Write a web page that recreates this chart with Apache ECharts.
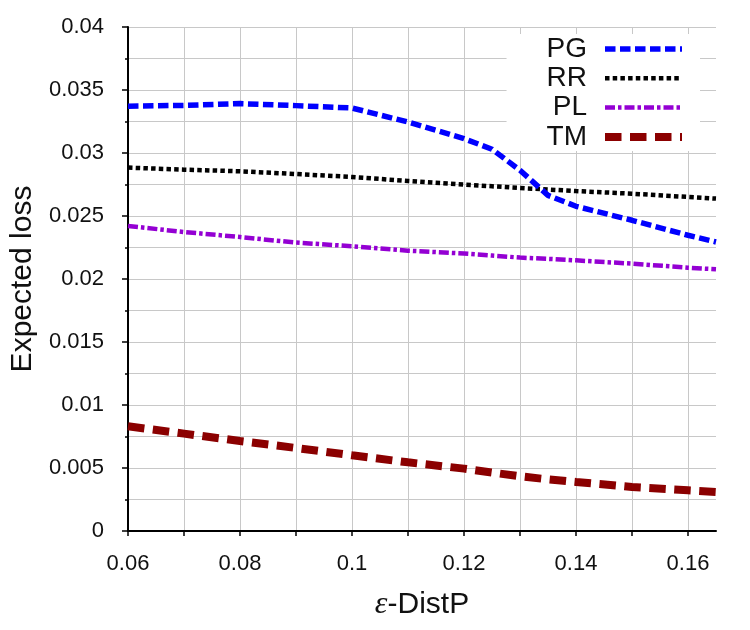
<!DOCTYPE html>
<html>
<head>
<meta charset="utf-8">
<script src="https://cdn.jsdelivr.net/npm/echarts@6/dist/echarts.min.js"></script>
<style>
  html, body { margin: 0; padding: 0; background: #ffffff; }
  #chart-root { width: 750px; height: 630px; }
</style>
</head>
<body>
<div id="chart-root"></div>
<script>
// epsilon values (x) shared by all series
const epsilons = [0.06, 0.07, 0.08, 0.09, 0.1, 0.11, 0.12, 0.125, 0.13, 0.135, 0.14, 0.15, 0.16, 0.165];

const seriesNames = ['PG', 'RR', 'PL', 'TM'];
const pgLoss = [0.03371, 0.03378, 0.03392, 0.03376, 0.03357, 0.03246, 0.03114, 0.03030, 0.02863, 0.02664, 0.02577, 0.02466, 0.02347, 0.02294];
const rrLoss = [0.02884, 0.02868, 0.02855, 0.02833, 0.02810, 0.02778, 0.02749, 0.02736, 0.02722, 0.02710, 0.02698, 0.02677, 0.02651, 0.02638];
const plLoss = [0.02421, 0.02373, 0.02333, 0.02289, 0.02260, 0.02225, 0.02202, 0.02186, 0.02170, 0.02160, 0.02148, 0.02122, 0.02090, 0.02077];
const tmLoss = [0.00831, 0.00773, 0.00714, 0.00659, 0.00601, 0.00545, 0.00495, 0.00464, 0.00434, 0.00410, 0.00389, 0.00349, 0.00323, 0.00310];

const theme = {
  text: '#111111',
  axis: '#000000',
  grid: '#c8c8c8',
  font: '"Liberation Sans", Arial, Helvetica, sans-serif',
};

const styles = [
  { color: '#0000ff', width: 5.5, dash: [10.5, 4.5] },
  { color: '#000000', width: 4.5, dash: [4.5, 3.2] },
  { color: '#9400d3', width: 4.5, dash: [10, 3, 3.5, 3] },
  { color: '#8b0000', width: 8, dash: [16.5, 8.5] },
];

const lossData = [pgLoss, rrLoss, plLoss, tmLoss];

function pairs(ys) {
  return epsilons.map((x, i) => [x, ys[i]]);
}

function xLabel(v) {
  const k = Math.round(v * 100);
  if (Math.abs(v * 100 - k) > 1e-6 || k % 2 !== 0) return '';
  return String(k / 100);
}

const option = {
  backgroundColor: '#ffffff',
  animation: false,
  textStyle: { fontFamily: theme.font, color: theme.text },
  grid: { left: 126, right: 34, top: 27, bottom: 99 },
  legend: {
    data: seriesNames,
    orient: 'vertical',
    align: 'right',
    right: 50,
    top: 34,
    padding: [1, 14, 0, 40],
    itemGap: 1.3,
    itemWidth: 77,
    itemHeight: 14,
    backgroundColor: '#ffffff',
    itemStyle: { opacity: 0, borderWidth: 0 },
    lineStyle: { width: 'inherit', type: 'inherit', cap: 'butt' },
    textStyle: { fontFamily: theme.font, fontSize: 28, color: theme.text, padding: [0, 13, 0, 0] },
  },
  xAxis: {
    type: 'value',
    min: 0.06,
    max: 0.165,
    interval: 0.01,
    name: '{e|ε}-DistP',
    nameLocation: 'middle',
    nameGap: 58,
    nameTextStyle: {
      fontFamily: theme.font,
      fontSize: 30,
      color: theme.text,
      rich: {
        e: { fontFamily: '"Liberation Serif", "DejaVu Serif", serif', fontStyle: 'italic', fontSize: 32, color: theme.text },
      },
    },
    axisLine: { onZero: false, lineStyle: { color: theme.axis, width: 2 } },
    axisTick: { show: true, length: 5, lineStyle: { color: theme.axis, width: 1.5 } },
    axisLabel: { fontFamily: theme.font, fontSize: 22, color: theme.text, margin: 22, formatter: xLabel, showMaxLabel: false },
    splitLine: { show: true, showMaxLine: false, lineStyle: { color: theme.grid, width: 1 } },
  },
  yAxis: {
    type: 'value',
    min: 0,
    max: 0.04,
    interval: 0.005,
    name: 'Expected loss',
    nameLocation: 'middle',
    nameGap: 90,
    nameTextStyle: { fontFamily: theme.font, fontSize: 30, color: theme.text },
    axisLine: { show: true, lineStyle: { color: theme.axis, width: 2 } },
    axisTick: { show: true, length: 6, lineStyle: { color: theme.axis, width: 1.5 } },
    minorTick: { show: true, splitNumber: 2, length: 3, lineStyle: { color: theme.axis, width: 1.5 } },
    axisLabel: { fontFamily: theme.font, fontSize: 22, color: theme.text, margin: 24 },
    splitLine: { show: true, lineStyle: { color: theme.grid, width: 1 } },
    minorSplitLine: { show: true, lineStyle: { color: theme.grid, width: 1 } },
  },
  series: seriesNames.map((name, i) => ({
    name,
    type: 'line',
    data: pairs(lossData[i]),
    symbol: 'none',
    smooth: false,
    z: 10 - i,
    lineStyle: { color: styles[i].color, width: styles[i].width, type: styles[i].dash, cap: 'butt' },
    itemStyle: { color: styles[i].color },
  })),
};

const chart = echarts.init(document.getElementById('chart-root'), null, { renderer: 'canvas' });
chart.setOption(option);
</script>
</body>
</html>
